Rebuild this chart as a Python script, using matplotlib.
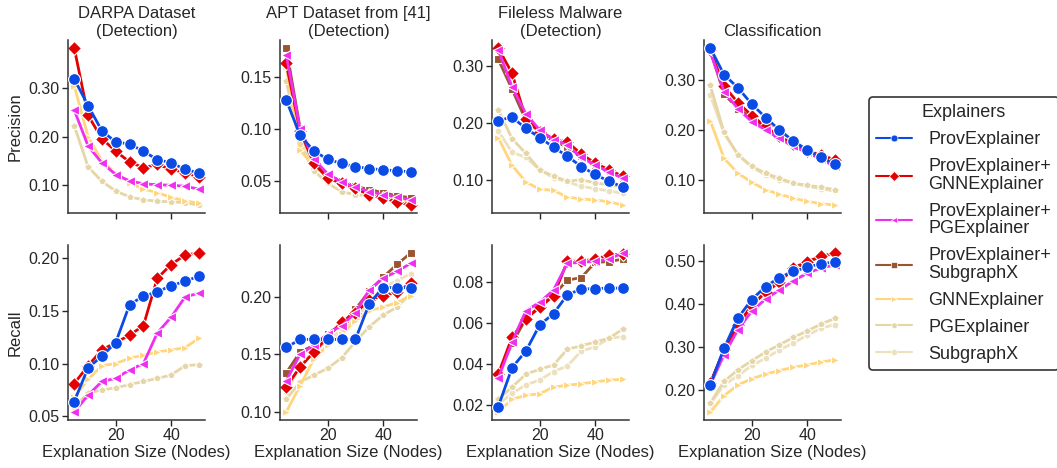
import numpy as np
import matplotlib
matplotlib.use("Agg")
import matplotlib.pyplot as plt
import seaborn as sns
from matplotlib.lines import Line2D
from matplotlib.ticker import MultipleLocator, FormatStrFormatter

sns.set_style("ticks")
plt.rcParams['font.family'] = ['Liberation Sans', 'DejaVu Sans']

# explanation sizes
sizes = [5, 10, 15, 20, 25, 30, 35, 40, 45, 50]

methods = ["ProvExplainer", "ProvExplainer+GNNExplainer", "ProvExplainer+PGExplainer",
           "ProvExplainer+SubgraphX", "GNNExplainer", "PGExplainer", "SubgraphX"]
legend_labels = ["ProvExplainer", "ProvExplainer+\nGNNExplainer", "ProvExplainer+\nPGExplainer",
                 "ProvExplainer+\nSubgraphX", "GNNExplainer", "PGExplainer", "SubgraphX"]
colors = ["#0a4be6", "#e30000", "#f02ef0", "#9b5430", "#ffd67e", "#e6d6a6", "#ece0bd"]
markers = ["o", "D", "<", "s", ">", "p", "h"]
msizes = [8.5, 7, 7, 6, 6, 5.5, 5.5]
zorders = [2.6, 2.4, 2.5, 2.3, 2.2, 2.1, 2.0]

# ---- DARPA (no SubgraphX runs) ----
darpa_precision = {
    "ProvExplainer": [0.319, 0.264, 0.212, 0.189, 0.185, 0.170, 0.153, 0.146, 0.133, 0.125],
    "ProvExplainer+GNNExplainer": [0.383, 0.244, 0.196, 0.170, 0.148, 0.136, 0.143, 0.133, 0.126, 0.117],
    "ProvExplainer+PGExplainer": [0.255, 0.181, 0.146, 0.122, 0.109, 0.103, 0.101, 0.100, 0.098, 0.092],
    "GNNExplainer": [0.305, 0.200, 0.150, 0.125, 0.105, 0.092, 0.085, 0.075, 0.068, 0.063],
    "PGExplainer": [0.223, 0.138, 0.108, 0.088, 0.076, 0.070, 0.067, 0.066, 0.064, 0.059],
}
darpa_recall = {
    "ProvExplainer": [0.064, 0.096, 0.107, 0.120, 0.156, 0.164, 0.168, 0.174, 0.178, 0.183],
    "ProvExplainer+GNNExplainer": [0.081, 0.098, 0.113, 0.120, 0.127, 0.136, 0.181, 0.194, 0.203, 0.205],
    "ProvExplainer+PGExplainer": [0.054, 0.070, 0.083, 0.086, 0.094, 0.100, 0.129, 0.144, 0.163, 0.167],
    "GNNExplainer": [0.068, 0.085, 0.098, 0.100, 0.105, 0.108, 0.111, 0.113, 0.115, 0.124],
    "PGExplainer": [0.059, 0.072, 0.075, 0.077, 0.080, 0.083, 0.086, 0.089, 0.098, 0.099],
}

# ---- APT dataset ----
apt_precision = {
    "ProvExplainer": [0.128, 0.094, 0.079, 0.071, 0.067, 0.064, 0.062, 0.061, 0.060, 0.059],
    "ProvExplainer+GNNExplainer": [0.163, 0.098, 0.067, 0.053, 0.048, 0.043, 0.037, 0.034, 0.030, 0.027],
    "ProvExplainer+PGExplainer": [0.171, 0.100, 0.071, 0.057, 0.049, 0.044, 0.040, 0.037, 0.035, 0.032],
    "ProvExplainer+SubgraphX": [0.178, 0.101, 0.069, 0.056, 0.050, 0.045, 0.042, 0.039, 0.036, 0.034],
    "GNNExplainer": [0.160, 0.080, 0.064, 0.055, 0.047, 0.042, 0.039, 0.036, 0.032, 0.029],
    "PGExplainer": [0.146, 0.086, 0.060, 0.048, 0.040, 0.037, 0.036, 0.034, 0.032, 0.031],
    "SubgraphX": [0.161, 0.091, 0.066, 0.053, 0.047, 0.042, 0.039, 0.036, 0.035, 0.033],
}
apt_recall = {
    "ProvExplainer": [0.156, 0.163, 0.163, 0.163, 0.163, 0.163, 0.194, 0.208, 0.208, 0.208],
    "ProvExplainer+GNNExplainer": [0.122, 0.139, 0.152, 0.165, 0.178, 0.186, 0.197, 0.201, 0.204, 0.212],
    "ProvExplainer+PGExplainer": [0.127, 0.150, 0.158, 0.168, 0.175, 0.186, 0.206, 0.216, 0.222, 0.229],
    "ProvExplainer+SubgraphX": [0.134, 0.152, 0.158, 0.168, 0.176, 0.189, 0.205, 0.217, 0.228, 0.238],
    "GNNExplainer": [0.100, 0.123, 0.146, 0.158, 0.168, 0.179, 0.188, 0.191, 0.195, 0.201],
    "PGExplainer": [0.111, 0.126, 0.132, 0.138, 0.147, 0.161, 0.174, 0.184, 0.191, 0.203],
    "SubgraphX": [0.117, 0.140, 0.153, 0.162, 0.171, 0.181, 0.195, 0.208, 0.214, 0.220],
}

# ---- Fileless malware ----
fileless_precision = {
    "ProvExplainer": [0.204, 0.210, 0.190, 0.174, 0.157, 0.141, 0.123, 0.109, 0.097, 0.087],
    "ProvExplainer+GNNExplainer": [0.332, 0.287, 0.207, 0.184, 0.172, 0.166, 0.145, 0.129, 0.117, 0.106],
    "ProvExplainer+PGExplainer": [0.329, 0.263, 0.216, 0.187, 0.170, 0.161, 0.139, 0.126, 0.113, 0.103],
    "ProvExplainer+SubgraphX": [0.312, 0.259, 0.204, 0.184, 0.167, 0.158, 0.141, 0.126, 0.115, 0.103],
    "GNNExplainer": [0.174, 0.125, 0.096, 0.083, 0.081, 0.069, 0.066, 0.064, 0.061, 0.055],
    "PGExplainer": [0.223, 0.172, 0.146, 0.117, 0.106, 0.097, 0.100, 0.094, 0.091, 0.086],
    "SubgraphX": [0.186, 0.148, 0.139, 0.117, 0.103, 0.096, 0.088, 0.084, 0.080, 0.076],
}
fileless_recall = {
    "ProvExplainer": [0.0192, 0.0382, 0.0463, 0.0590, 0.0645, 0.0737, 0.0764, 0.0767, 0.0769, 0.0769],
    "ProvExplainer+GNNExplainer": [0.0350, 0.0530, 0.0620, 0.0675, 0.0732, 0.0900, 0.0900, 0.0910, 0.0930, 0.0935],
    "ProvExplainer+PGExplainer": [0.0330, 0.0507, 0.0659, 0.0700, 0.0760, 0.0890, 0.0894, 0.0900, 0.0910, 0.0940],
    "ProvExplainer+SubgraphX": [0.0350, 0.0500, 0.0620, 0.0680, 0.0735, 0.0808, 0.0820, 0.0894, 0.0898, 0.0910],
    "GNNExplainer": [0.0166, 0.0228, 0.0247, 0.0255, 0.0288, 0.0296, 0.0304, 0.0312, 0.0322, 0.0325],
    "PGExplainer": [0.0228, 0.0288, 0.0350, 0.0374, 0.0395, 0.0472, 0.0488, 0.0507, 0.0525, 0.0569],
    "SubgraphX": [0.0203, 0.0257, 0.0298, 0.0322, 0.0363, 0.0390, 0.0463, 0.0483, 0.0524, 0.0533],
}

# ---- Classification ----
class_precision = {
    "ProvExplainer": [0.365, 0.311, 0.285, 0.252, 0.225, 0.200, 0.178, 0.160, 0.145, 0.132],
    "ProvExplainer+GNNExplainer": [0.360, 0.288, 0.255, 0.229, 0.207, 0.187, 0.172, 0.158, 0.150, 0.140],
    "ProvExplainer+PGExplainer": [0.357, 0.277, 0.243, 0.217, 0.200, 0.183, 0.167, 0.155, 0.141, 0.127],
    "ProvExplainer+SubgraphX": [0.360, 0.272, 0.243, 0.225, 0.203, 0.187, 0.170, 0.157, 0.147, 0.137],
    "GNNExplainer": [0.219, 0.143, 0.113, 0.095, 0.080, 0.071, 0.063, 0.057, 0.052, 0.049],
    "PGExplainer": [0.290, 0.195, 0.150, 0.127, 0.113, 0.103, 0.093, 0.089, 0.085, 0.080],
    "SubgraphX": [0.270, 0.193, 0.151, 0.125, 0.110, 0.100, 0.093, 0.087, 0.082, 0.077],
}
class_recall = {
    "ProvExplainer": [0.212, 0.297, 0.367, 0.410, 0.440, 0.461, 0.475, 0.485, 0.493, 0.497],
    "ProvExplainer+GNNExplainer": [0.216, 0.293, 0.352, 0.396, 0.427, 0.450, 0.483, 0.498, 0.510, 0.518],
    "ProvExplainer+PGExplainer": [0.212, 0.282, 0.340, 0.383, 0.411, 0.432, 0.453, 0.471, 0.483, 0.490],
    "ProvExplainer+SubgraphX": [0.214, 0.294, 0.350, 0.396, 0.428, 0.453, 0.480, 0.497, 0.509, 0.517],
    "GNNExplainer": [0.149, 0.187, 0.212, 0.226, 0.237, 0.245, 0.253, 0.258, 0.265, 0.270],
    "PGExplainer": [0.170, 0.220, 0.247, 0.268, 0.288, 0.305, 0.322, 0.337, 0.353, 0.366],
    "SubgraphX": [0.168, 0.212, 0.233, 0.257, 0.274, 0.293, 0.309, 0.327, 0.343, 0.352],
}

titles = ["DARPA Dataset\n(Detection)", "APT Dataset from [41]\n(Detection)",
          "Fileless Malware\n(Detection)", "Classification"]
precision_panels = [darpa_precision, apt_precision, fileless_precision, class_precision]
recall_panels = [darpa_recall, apt_recall, fileless_recall, class_recall]
prec_steps = [0.1, 0.05, 0.1, 0.1]
rec_steps = [0.05, 0.05, 0.02, 0.1]

W, H = 1057, 468
fig = plt.figure(figsize=(W / 100, H / 100), dpi=100)

lefts = [68, 280, 492, 704]
width = 137
rows = [(40, 213), (245, 420)]

text_col = "#262626"

for c in range(4):
    for r, (panels, steps) in enumerate([(precision_panels, prec_steps), (recall_panels, rec_steps)]):
        top, bottom = rows[r]
        ax = fig.add_axes([lefts[c] / W, 1 - bottom / H, width / W, (bottom - top) / H])
        data = panels[c]
        for m, col, mk, ms, z in zip(methods, colors, markers, msizes, zorders):
            if m not in data:
                continue
            ax.plot(sizes, data[m], color=col, marker=mk, markersize=ms, lw=2,
                    markeredgecolor="white", markeredgewidth=0.8, zorder=z)
        ax.set_xlim(2.75, 52.25)
        ax.xaxis.set_major_locator(MultipleLocator(20))
        ax.yaxis.set_major_locator(MultipleLocator(steps[c]))
        ax.yaxis.set_major_formatter(FormatStrFormatter("%.2f"))
        ax.tick_params(labelsize=11.5, colors=text_col, length=4, width=1, pad=2)
        for s in ["left", "bottom"]:
            ax.spines[s].set_color("#333333")
            ax.spines[s].set_linewidth(1.1)
        sns.despine(ax=ax)
        if r == 0:
            ax.set_title(titles[c], fontsize=12, color=text_col, pad=3)
            ax.tick_params(labelbottom=False)
            if c == 0:
                ax.set_ylabel("Precision", fontsize=12, color=text_col)
        else:
            ax.set_xlabel("Explanation Size (Nodes)", fontsize=12, color=text_col, labelpad=1)
            if c == 0:
                ax.set_ylabel("Recall", fontsize=12, color=text_col)

handles = [Line2D([0], [0], color=col, marker=mk, markersize=5, lw=1.5,
                  markeredgecolor="white", markeredgewidth=0.5)
           for col, mk in zip(colors, markers)]
leg = fig.legend(handles, legend_labels, title="Explainers", loc="upper left",
                 bbox_to_anchor=(869 / W, 1 - 97 / H), borderaxespad=0,
                 fontsize=13, title_fontsize=13,
                 frameon=True, fancybox=True, handlelength=2.0, labelspacing=0.55,
                 borderpad=0.4, handletextpad=0.9)
for t in leg.get_texts():
    t.set_linespacing(1.05)
leg.get_frame().set_edgecolor("#333333")
leg.get_frame().set_linewidth(1.2)
leg.get_frame().set_alpha(1)

fig.savefig("out.png", dpi=100)
